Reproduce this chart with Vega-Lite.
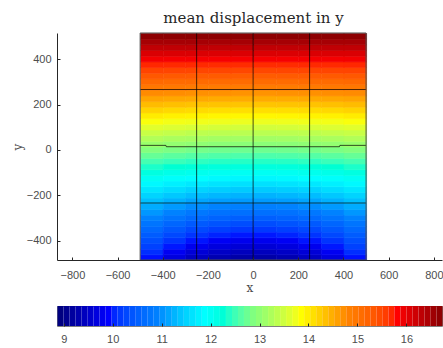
{
"$schema": "https://vega.github.io/schema/vega-lite/v6.json",
"background": "white",
"padding": {"left": 11, "top": 10, "right": 0, "bottom": 0},
"spacing": 12,
"config": {
  "view": {"stroke": null},
  "axis": {"labelFont": "Liberation Sans", "labelFontSize": 11, "labelColor": "#4d4d4d", "titleFont": "DejaVu Serif", "titleFontWeight": "normal", "titleFontSize": 12, "titleColor": "#4d4d4d", "domainColor": "#262626", "tickColor": "#262626", "grid": false},
  "rect": {"binSpacing": 0}
},
"resolve": {"scale": {"color": "independent"}},
"datasets": {
"cells": [
{"x":-500,"y":-485,"v":9.88},{"x":-400,"y":-485,"v":9.60},{"x":-300,"y":-485,"v":9.39},{"x":-200,"y":-485,"v":9.25},{"x":-100,"y":-485,"v":9.18},{"x":0,"y":-485,"v":9.18},{"x":100,"y":-485,"v":9.25},{"x":200,"y":-485,"v":9.39},{"x":300,"y":-485,"v":9.60},{"x":400,"y":-485,"v":9.88},
{"x":-500,"y":-460,"v":10.01},{"x":-400,"y":-460,"v":9.75},{"x":-300,"y":-460,"v":9.55},{"x":-200,"y":-460,"v":9.42},{"x":-100,"y":-460,"v":9.36},{"x":0,"y":-460,"v":9.36},{"x":100,"y":-460,"v":9.42},{"x":200,"y":-460,"v":9.55},{"x":300,"y":-460,"v":9.75},{"x":400,"y":-460,"v":10.01},
{"x":-500,"y":-435,"v":10.15},{"x":-400,"y":-435,"v":9.90},{"x":-300,"y":-435,"v":9.72},{"x":-200,"y":-435,"v":9.60},{"x":-100,"y":-435,"v":9.54},{"x":0,"y":-435,"v":9.54},{"x":100,"y":-435,"v":9.60},{"x":200,"y":-435,"v":9.72},{"x":300,"y":-435,"v":9.90},{"x":400,"y":-435,"v":10.15},
{"x":-500,"y":-410,"v":10.28},{"x":-400,"y":-410,"v":10.05},{"x":-300,"y":-410,"v":9.89},{"x":-200,"y":-410,"v":9.77},{"x":-100,"y":-410,"v":9.72},{"x":0,"y":-410,"v":9.72},{"x":100,"y":-410,"v":9.77},{"x":200,"y":-410,"v":9.89},{"x":300,"y":-410,"v":10.05},{"x":400,"y":-410,"v":10.28},
{"x":-500,"y":-385,"v":10.41},{"x":-400,"y":-385,"v":10.21},{"x":-300,"y":-385,"v":10.05},{"x":-200,"y":-385,"v":9.95},{"x":-100,"y":-385,"v":9.90},{"x":0,"y":-385,"v":9.90},{"x":100,"y":-385,"v":9.95},{"x":200,"y":-385,"v":10.05},{"x":300,"y":-385,"v":10.21},{"x":400,"y":-385,"v":10.41},
{"x":-500,"y":-360,"v":10.55},{"x":-400,"y":-360,"v":10.36},{"x":-300,"y":-360,"v":10.22},{"x":-200,"y":-360,"v":10.13},{"x":-100,"y":-360,"v":10.08},{"x":0,"y":-360,"v":10.08},{"x":100,"y":-360,"v":10.13},{"x":200,"y":-360,"v":10.22},{"x":300,"y":-360,"v":10.36},{"x":400,"y":-360,"v":10.55},
{"x":-500,"y":-335,"v":10.69},{"x":-400,"y":-335,"v":10.52},{"x":-300,"y":-335,"v":10.39},{"x":-200,"y":-335,"v":10.31},{"x":-100,"y":-335,"v":10.26},{"x":0,"y":-335,"v":10.26},{"x":100,"y":-335,"v":10.31},{"x":200,"y":-335,"v":10.39},{"x":300,"y":-335,"v":10.52},{"x":400,"y":-335,"v":10.69},
{"x":-500,"y":-310,"v":10.84},{"x":-400,"y":-310,"v":10.68},{"x":-300,"y":-310,"v":10.56},{"x":-200,"y":-310,"v":10.48},{"x":-100,"y":-310,"v":10.44},{"x":0,"y":-310,"v":10.44},{"x":100,"y":-310,"v":10.48},{"x":200,"y":-310,"v":10.56},{"x":300,"y":-310,"v":10.68},{"x":400,"y":-310,"v":10.84},
{"x":-500,"y":-285,"v":10.98},{"x":-400,"y":-285,"v":10.84},{"x":-300,"y":-285,"v":10.73},{"x":-200,"y":-285,"v":10.66},{"x":-100,"y":-285,"v":10.63},{"x":0,"y":-285,"v":10.63},{"x":100,"y":-285,"v":10.66},{"x":200,"y":-285,"v":10.73},{"x":300,"y":-285,"v":10.84},{"x":400,"y":-285,"v":10.98},
{"x":-500,"y":-260,"v":11.13},{"x":-400,"y":-260,"v":11.00},{"x":-300,"y":-260,"v":10.91},{"x":-200,"y":-260,"v":10.84},{"x":-100,"y":-260,"v":10.81},{"x":0,"y":-260,"v":10.81},{"x":100,"y":-260,"v":10.84},{"x":200,"y":-260,"v":10.91},{"x":300,"y":-260,"v":11.00},{"x":400,"y":-260,"v":11.13},
{"x":-500,"y":-235,"v":11.28},{"x":-400,"y":-235,"v":11.17},{"x":-300,"y":-235,"v":11.08},{"x":-200,"y":-235,"v":11.02},{"x":-100,"y":-235,"v":11.00},{"x":0,"y":-235,"v":11.00},{"x":100,"y":-235,"v":11.02},{"x":200,"y":-235,"v":11.08},{"x":300,"y":-235,"v":11.17},{"x":400,"y":-235,"v":11.28},
{"x":-500,"y":-210,"v":11.44},{"x":-400,"y":-210,"v":11.34},{"x":-300,"y":-210,"v":11.26},{"x":-200,"y":-210,"v":11.21},{"x":-100,"y":-210,"v":11.18},{"x":0,"y":-210,"v":11.18},{"x":100,"y":-210,"v":11.21},{"x":200,"y":-210,"v":11.26},{"x":300,"y":-210,"v":11.34},{"x":400,"y":-210,"v":11.44},
{"x":-500,"y":-185,"v":11.60},{"x":-400,"y":-185,"v":11.51},{"x":-300,"y":-185,"v":11.44},{"x":-200,"y":-185,"v":11.39},{"x":-100,"y":-185,"v":11.37},{"x":0,"y":-185,"v":11.37},{"x":100,"y":-185,"v":11.39},{"x":200,"y":-185,"v":11.44},{"x":300,"y":-185,"v":11.51},{"x":400,"y":-185,"v":11.60},
{"x":-500,"y":-160,"v":11.76},{"x":-400,"y":-160,"v":11.68},{"x":-300,"y":-160,"v":11.62},{"x":-200,"y":-160,"v":11.57},{"x":-100,"y":-160,"v":11.55},{"x":0,"y":-160,"v":11.55},{"x":100,"y":-160,"v":11.57},{"x":200,"y":-160,"v":11.62},{"x":300,"y":-160,"v":11.68},{"x":400,"y":-160,"v":11.76},
{"x":-500,"y":-135,"v":11.93},{"x":-400,"y":-135,"v":11.86},{"x":-300,"y":-135,"v":11.80},{"x":-200,"y":-135,"v":11.76},{"x":-100,"y":-135,"v":11.74},{"x":0,"y":-135,"v":11.74},{"x":100,"y":-135,"v":11.76},{"x":200,"y":-135,"v":11.80},{"x":300,"y":-135,"v":11.86},{"x":400,"y":-135,"v":11.93},
{"x":-500,"y":-110,"v":12.10},{"x":-400,"y":-110,"v":12.03},{"x":-300,"y":-110,"v":11.98},{"x":-200,"y":-110,"v":11.95},{"x":-100,"y":-110,"v":11.93},{"x":0,"y":-110,"v":11.93},{"x":100,"y":-110,"v":11.95},{"x":200,"y":-110,"v":11.98},{"x":300,"y":-110,"v":12.03},{"x":400,"y":-110,"v":12.10},
{"x":-500,"y":-85,"v":12.28},{"x":-400,"y":-85,"v":12.21},{"x":-300,"y":-85,"v":12.17},{"x":-200,"y":-85,"v":12.13},{"x":-100,"y":-85,"v":12.12},{"x":0,"y":-85,"v":12.12},{"x":100,"y":-85,"v":12.13},{"x":200,"y":-85,"v":12.17},{"x":300,"y":-85,"v":12.21},{"x":400,"y":-85,"v":12.28},
{"x":-500,"y":-60,"v":12.46},{"x":-400,"y":-60,"v":12.40},{"x":-300,"y":-60,"v":12.35},{"x":-200,"y":-60,"v":12.32},{"x":-100,"y":-60,"v":12.31},{"x":0,"y":-60,"v":12.31},{"x":100,"y":-60,"v":12.32},{"x":200,"y":-60,"v":12.35},{"x":300,"y":-60,"v":12.40},{"x":400,"y":-60,"v":12.46},
{"x":-500,"y":-35,"v":12.64},{"x":-400,"y":-35,"v":12.58},{"x":-300,"y":-35,"v":12.54},{"x":-200,"y":-35,"v":12.51},{"x":-100,"y":-35,"v":12.50},{"x":0,"y":-35,"v":12.50},{"x":100,"y":-35,"v":12.51},{"x":200,"y":-35,"v":12.54},{"x":300,"y":-35,"v":12.58},{"x":400,"y":-35,"v":12.64},
{"x":-500,"y":-10,"v":12.82},{"x":-400,"y":-10,"v":12.77},{"x":-300,"y":-10,"v":12.73},{"x":-200,"y":-10,"v":12.70},{"x":-100,"y":-10,"v":12.69},{"x":0,"y":-10,"v":12.69},{"x":100,"y":-10,"v":12.70},{"x":200,"y":-10,"v":12.73},{"x":300,"y":-10,"v":12.77},{"x":400,"y":-10,"v":12.82},
{"x":-500,"y":15,"v":13.01},{"x":-400,"y":15,"v":12.95},{"x":-300,"y":15,"v":12.92},{"x":-200,"y":15,"v":12.89},{"x":-100,"y":15,"v":12.88},{"x":0,"y":15,"v":12.88},{"x":100,"y":15,"v":12.89},{"x":200,"y":15,"v":12.92},{"x":300,"y":15,"v":12.95},{"x":400,"y":15,"v":13.01},
{"x":-500,"y":40,"v":13.19},{"x":-400,"y":40,"v":13.14},{"x":-300,"y":40,"v":13.11},{"x":-200,"y":40,"v":13.08},{"x":-100,"y":40,"v":13.07},{"x":0,"y":40,"v":13.07},{"x":100,"y":40,"v":13.08},{"x":200,"y":40,"v":13.11},{"x":300,"y":40,"v":13.14},{"x":400,"y":40,"v":13.19},
{"x":-500,"y":65,"v":13.37},{"x":-400,"y":65,"v":13.33},{"x":-300,"y":65,"v":13.29},{"x":-200,"y":65,"v":13.27},{"x":-100,"y":65,"v":13.26},{"x":0,"y":65,"v":13.26},{"x":100,"y":65,"v":13.27},{"x":200,"y":65,"v":13.29},{"x":300,"y":65,"v":13.33},{"x":400,"y":65,"v":13.37},
{"x":-500,"y":90,"v":13.56},{"x":-400,"y":90,"v":13.52},{"x":-300,"y":90,"v":13.49},{"x":-200,"y":90,"v":13.46},{"x":-100,"y":90,"v":13.45},{"x":0,"y":90,"v":13.45},{"x":100,"y":90,"v":13.46},{"x":200,"y":90,"v":13.49},{"x":300,"y":90,"v":13.52},{"x":400,"y":90,"v":13.56},
{"x":-500,"y":115,"v":13.74},{"x":-400,"y":115,"v":13.70},{"x":-300,"y":115,"v":13.68},{"x":-200,"y":115,"v":13.66},{"x":-100,"y":115,"v":13.65},{"x":0,"y":115,"v":13.65},{"x":100,"y":115,"v":13.66},{"x":200,"y":115,"v":13.68},{"x":300,"y":115,"v":13.70},{"x":400,"y":115,"v":13.74},
{"x":-500,"y":140,"v":13.93},{"x":-400,"y":140,"v":13.89},{"x":-300,"y":140,"v":13.87},{"x":-200,"y":140,"v":13.85},{"x":-100,"y":140,"v":13.84},{"x":0,"y":140,"v":13.84},{"x":100,"y":140,"v":13.85},{"x":200,"y":140,"v":13.87},{"x":300,"y":140,"v":13.89},{"x":400,"y":140,"v":13.93},
{"x":-500,"y":165,"v":14.12},{"x":-400,"y":165,"v":14.08},{"x":-300,"y":165,"v":14.06},{"x":-200,"y":165,"v":14.04},{"x":-100,"y":165,"v":14.03},{"x":0,"y":165,"v":14.03},{"x":100,"y":165,"v":14.04},{"x":200,"y":165,"v":14.06},{"x":300,"y":165,"v":14.08},{"x":400,"y":165,"v":14.12},
{"x":-500,"y":190,"v":14.30},{"x":-400,"y":190,"v":14.27},{"x":-300,"y":190,"v":14.25},{"x":-200,"y":190,"v":14.24},{"x":-100,"y":190,"v":14.23},{"x":0,"y":190,"v":14.23},{"x":100,"y":190,"v":14.24},{"x":200,"y":190,"v":14.25},{"x":300,"y":190,"v":14.27},{"x":400,"y":190,"v":14.30},
{"x":-500,"y":215,"v":14.49},{"x":-400,"y":215,"v":14.46},{"x":-300,"y":215,"v":14.45},{"x":-200,"y":215,"v":14.43},{"x":-100,"y":215,"v":14.43},{"x":0,"y":215,"v":14.43},{"x":100,"y":215,"v":14.43},{"x":200,"y":215,"v":14.45},{"x":300,"y":215,"v":14.46},{"x":400,"y":215,"v":14.49},
{"x":-500,"y":240,"v":14.68},{"x":-400,"y":240,"v":14.66},{"x":-300,"y":240,"v":14.64},{"x":-200,"y":240,"v":14.63},{"x":-100,"y":240,"v":14.62},{"x":0,"y":240,"v":14.62},{"x":100,"y":240,"v":14.63},{"x":200,"y":240,"v":14.64},{"x":300,"y":240,"v":14.66},{"x":400,"y":240,"v":14.68},
{"x":-500,"y":265,"v":14.87},{"x":-400,"y":265,"v":14.85},{"x":-300,"y":265,"v":14.83},{"x":-200,"y":265,"v":14.82},{"x":-100,"y":265,"v":14.82},{"x":0,"y":265,"v":14.82},{"x":100,"y":265,"v":14.82},{"x":200,"y":265,"v":14.83},{"x":300,"y":265,"v":14.85},{"x":400,"y":265,"v":14.87},
{"x":-500,"y":290,"v":15.06},{"x":-400,"y":290,"v":15.04},{"x":-300,"y":290,"v":15.03},{"x":-200,"y":290,"v":15.02},{"x":-100,"y":290,"v":15.02},{"x":0,"y":290,"v":15.02},{"x":100,"y":290,"v":15.02},{"x":200,"y":290,"v":15.03},{"x":300,"y":290,"v":15.04},{"x":400,"y":290,"v":15.06},
{"x":-500,"y":315,"v":15.25},{"x":-400,"y":315,"v":15.23},{"x":-300,"y":315,"v":15.22},{"x":-200,"y":315,"v":15.22},{"x":-100,"y":315,"v":15.21},{"x":0,"y":315,"v":15.21},{"x":100,"y":315,"v":15.22},{"x":200,"y":315,"v":15.22},{"x":300,"y":315,"v":15.23},{"x":400,"y":315,"v":15.25},
{"x":-500,"y":340,"v":15.44},{"x":-400,"y":340,"v":15.43},{"x":-300,"y":340,"v":15.42},{"x":-200,"y":340,"v":15.42},{"x":-100,"y":340,"v":15.41},{"x":0,"y":340,"v":15.41},{"x":100,"y":340,"v":15.42},{"x":200,"y":340,"v":15.42},{"x":300,"y":340,"v":15.43},{"x":400,"y":340,"v":15.44},
{"x":-500,"y":365,"v":15.63},{"x":-400,"y":365,"v":15.62},{"x":-300,"y":365,"v":15.62},{"x":-200,"y":365,"v":15.61},{"x":-100,"y":365,"v":15.61},{"x":0,"y":365,"v":15.61},{"x":100,"y":365,"v":15.61},{"x":200,"y":365,"v":15.62},{"x":300,"y":365,"v":15.62},{"x":400,"y":365,"v":15.63},
{"x":-500,"y":390,"v":15.83},{"x":-400,"y":390,"v":15.82},{"x":-300,"y":390,"v":15.82},{"x":-200,"y":390,"v":15.81},{"x":-100,"y":390,"v":15.81},{"x":0,"y":390,"v":15.81},{"x":100,"y":390,"v":15.81},{"x":200,"y":390,"v":15.82},{"x":300,"y":390,"v":15.82},{"x":400,"y":390,"v":15.83},
{"x":-500,"y":415,"v":16.02},{"x":-400,"y":415,"v":16.02},{"x":-300,"y":415,"v":16.02},{"x":-200,"y":415,"v":16.01},{"x":-100,"y":415,"v":16.01},{"x":0,"y":415,"v":16.01},{"x":100,"y":415,"v":16.01},{"x":200,"y":415,"v":16.02},{"x":300,"y":415,"v":16.02},{"x":400,"y":415,"v":16.02},
{"x":-500,"y":440,"v":16.22},{"x":-400,"y":440,"v":16.22},{"x":-300,"y":440,"v":16.22},{"x":-200,"y":440,"v":16.21},{"x":-100,"y":440,"v":16.21},{"x":0,"y":440,"v":16.21},{"x":100,"y":440,"v":16.21},{"x":200,"y":440,"v":16.22},{"x":300,"y":440,"v":16.22},{"x":400,"y":440,"v":16.22},
{"x":-500,"y":465,"v":16.42},{"x":-400,"y":465,"v":16.42},{"x":-300,"y":465,"v":16.42},{"x":-200,"y":465,"v":16.42},{"x":-100,"y":465,"v":16.42},{"x":0,"y":465,"v":16.42},{"x":100,"y":465,"v":16.42},{"x":200,"y":465,"v":16.42},{"x":300,"y":465,"v":16.42},{"x":400,"y":465,"v":16.42},
{"x":-500,"y":490,"v":16.62},{"x":-400,"y":490,"v":16.62},{"x":-300,"y":490,"v":16.62},{"x":-200,"y":490,"v":16.62},{"x":-100,"y":490,"v":16.62},{"x":0,"y":490,"v":16.62},{"x":100,"y":490,"v":16.62},{"x":200,"y":490,"v":16.62},{"x":300,"y":490,"v":16.62},{"x":400,"y":490,"v":16.62}
],
"bands": [
{"c":8.863},{"c":8.986},{"c":9.109},{"c":9.232},{"c":9.355},{"c":9.477},{"c":9.600},{"c":9.723},
{"c":9.846},{"c":9.969},{"c":10.092},{"c":10.215},{"c":10.338},{"c":10.460},{"c":10.583},{"c":10.706},
{"c":10.829},{"c":10.952},{"c":11.075},{"c":11.198},{"c":11.321},{"c":11.444},{"c":11.566},{"c":11.689},
{"c":11.812},{"c":11.935},{"c":12.058},{"c":12.181},{"c":12.304},{"c":12.427},{"c":12.549},{"c":12.672},
{"c":12.795},{"c":12.918},{"c":13.041},{"c":13.164},{"c":13.287},{"c":13.410},{"c":13.532},{"c":13.655},
{"c":13.778},{"c":13.901},{"c":14.024},{"c":14.147},{"c":14.270},{"c":14.393},{"c":14.515},{"c":14.638},
{"c":14.761},{"c":14.884},{"c":15.007},{"c":15.130},{"c":15.253},{"c":15.376},{"c":15.498},{"c":15.621},
{"c":15.744},{"c":15.867},{"c":15.990},{"c":16.113},{"c":16.236},{"c":16.359},{"c":16.481},{"c":16.604}
]
},
"vconcat": [
{
  "width": 385,
  "height": 227,
  "title": {"text": "mean displacement in y", "font": "DejaVu Serif", "fontSize": 15, "fontWeight": "normal", "color": "#262626", "anchor": "middle", "frame": "group", "dx": 4, "offset": 7},
  "layer": [
    {
      "data": {"name": "cells"},
      "mark": {"type": "rect", "strokeWidth": 0.6},
      "encoding": {
        "x": {"field": "x", "type": "quantitative", "bin": {"binned": true, "step": 100},
              "scale": {"domain": [-868, 836], "nice": false, "zero": false},
              "axis": {"values": [-800, -600, -400, -200, 0, 200, 400, 600, 800], "format": "d", "title": "x", "tickSize": -3, "labelPadding": 12, "titlePadding": 2}},
        "y": {"field": "y", "type": "quantitative", "bin": {"binned": true, "step": 25},
              "scale": {"domain": [-485, 515], "nice": false, "zero": false},
              "axis": {"values": [-400, -200, 0, 200, 400], "format": "d", "title": "y", "tickSize": -3, "labelPadding": 9, "titlePadding": 2}},
        "color": {"field": "v", "type": "quantitative", "legend": null,
                  "scale": {"type": "linear", "domain": [8.863, 9.846, 10.829, 11.812, 12.795, 13.778, 14.761, 15.744, 16.727], "range": ["#000080", "#0000ff", "#0080ff", "#00ffff", "#80ff80", "#ffff00", "#ff8000", "#ff0000", "#800000"], "clamp": true}},
        "stroke": {"field": "v", "type": "quantitative", "legend": null,
                  "scale": {"type": "linear", "domain": [8.863, 9.846, 10.829, 11.812, 12.795, 13.778, 14.761, 15.744, 16.727], "range": ["#000080", "#0000ff", "#0080ff", "#00ffff", "#80ff80", "#ffff00", "#ff8000", "#ff0000", "#800000"], "clamp": true}}
      }
    },
    {
      "data": {"values": [{"x": -250}, {"x": 0}, {"x": 250}]},
      "mark": {"type": "rule", "color": "#000000", "opacity": 0.7, "strokeWidth": 1},
      "encoding": {"x": {"field": "x", "type": "quantitative"}}
    },
    {
      "data": {"values": [
        {"seg": "a", "o": 1, "x": -500, "y": -234}, {"seg": "a", "o": 2, "x": 500, "y": -234},
        {"seg": "b", "o": 1, "x": -500, "y": 20}, {"seg": "b", "o": 2, "x": -386, "y": 20}, {"seg": "b", "o": 3, "x": -384, "y": 14}, {"seg": "b", "o": 4, "x": 382, "y": 14}, {"seg": "b", "o": 5, "x": 384, "y": 20}, {"seg": "b", "o": 6, "x": 500, "y": 20},
        {"seg": "c", "o": 1, "x": -500, "y": 266}, {"seg": "c", "o": 2, "x": 500, "y": 266}
      ]},
      "mark": {"type": "line", "color": "#000000", "opacity": 0.7, "strokeWidth": 1},
      "encoding": {
        "x": {"field": "x", "type": "quantitative"},
        "y": {"field": "y", "type": "quantitative"},
        "detail": {"field": "seg"},
        "order": {"field": "o", "type": "quantitative"}
      }
    },
    {
      "data": {"values": [{"xa": -500, "xb": 500, "ya": -485, "yb": 515}]},
      "mark": {"type": "rect", "fill": "transparent", "stroke": "#4d4d4d", "strokeWidth": 1},
      "encoding": {
        "x": {"field": "xa", "type": "quantitative"},
        "x2": {"field": "xb"},
        "y": {"field": "ya", "type": "quantitative"},
        "y2": {"field": "yb"}
      }
    }
  ]
},
{
  "width": 385,
  "height": 20,
  "view": {"stroke": "#808080"},
  "data": {"name": "bands"},
  "mark": {"type": "rect"},
  "encoding": {
    "x": {"field": "c", "type": "quantitative", "bin": {"binned": true, "step": 0.122875},
          "scale": {"domain": [8.863, 16.727], "nice": false, "zero": false},
          "axis": {"values": [9, 10, 11, 12, 13, 14, 15, 16], "format": "d", "title": null, "domain": false, "tickSize": -3, "labelPadding": 10}},
    "color": {"field": "c", "type": "quantitative", "legend": null,
              "scale": {"type": "linear", "domain": [8.863, 9.846, 10.829, 11.812, 12.795, 13.778, 14.761, 15.744, 16.727], "range": ["#000080", "#0000ff", "#0080ff", "#00ffff", "#80ff80", "#ffff00", "#ff8000", "#ff0000", "#800000"], "clamp": true}}
  }
}
]
}
